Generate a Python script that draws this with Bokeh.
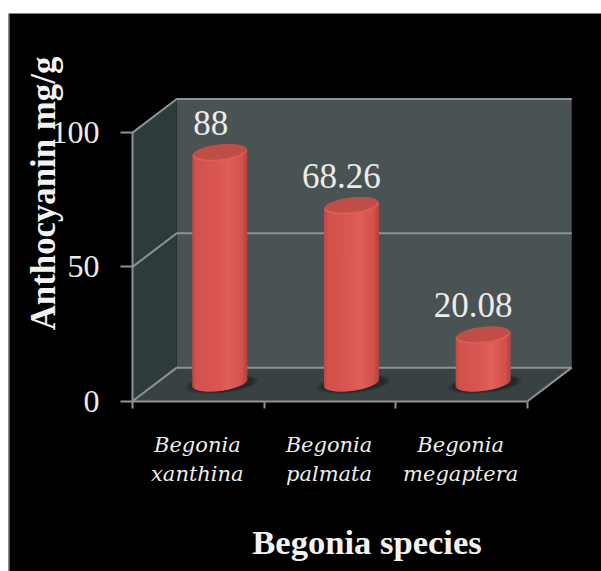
import numpy as np
from bokeh.plotting import figure
from bokeh.embed import file_html
from bokeh.resources import INLINE
from bokeh.core.properties import value
from bokeh.models import Range1d, LinearAxis, FixedTicker, ColumnDataSource, LabelSet, Label, BoxAnnotation

# ---- data ----
line1 = ["Begonia", "Begonia", "Begonia"]
line2 = ["xanthina", "palmata", "megaptera"]
values = [88, 68.26, 20.08]
value_labels = ["88", "68.26", "20.08"]
y_ticks = [0, 50, 100]
x_ticks = [0, 1, 2, 3]
y_title = "Anthocyanin mg/g"
x_title = "Begonia species"

# ---- style ----
DX, DY = 0.336, 12.5           # depth of the 3D box in data units
GRID = "#8d9292"
TXT = "#ececec"
SERIF = "Liberation Serif"
X = lambda px: (px - 132) / 131.67
Y = lambda py: (400.7 - py) / 2.686

p = figure(width=593, height=558,
           x_range=Range1d(X(8), X(601)), y_range=Range1d(Y(571), Y(13)),
           min_border=0,
           output_backend="svg", toolbar_location=None, x_axis_type=None, y_axis_type=None,
           background_fill_color="#000000", border_fill_color="#000000",
           outline_line_color=None, margin=(13, 0, 0, 8))
p.grid.visible = False

# walls
p.quad(left=DX, right=3 + DX, bottom=DY, top=100 + DY, fill_color="#4a5353", line_color=None)
p.patch([0, 0, DX, DX], [0, 100, 100 + DY, DY], fill_color="#2f3b3b", line_color=None)
p.patch([0, 3, 3 + DX, DX], [0, 0, DY, DY], fill_color="#394242", line_color=None)

# gridlines
for t in y_ticks:
    p.line([0, DX, 3 + DX], [t, t + DY, t + DY], line_color=GRID, line_width=2)
p.line([3, 3 + DX], [0, DY], line_color=GRID, line_width=2)

# axes
ly = LinearAxis(ticker=FixedTicker(ticks=y_ticks), bounds=(0, 100), fixed_location=0)
ly.axis_line_color = GRID
ly.axis_line_width = 2
ly.major_tick_line_color = GRID
ly.major_tick_line_width = 2
ly.major_tick_out = 12
ly.major_tick_in = 0
ly.minor_tick_line_color = None
ly.major_label_standoff = 21
ly.major_label_text_font = SERIF
ly.major_label_text_font_size = "32px"
ly.major_label_text_color = TXT
p.add_layout(ly, "left")

lx = LinearAxis(ticker=FixedTicker(ticks=x_ticks), bounds=(0, 3), fixed_location=0)
lx.axis_line_color = GRID
lx.axis_line_width = 2
lx.major_tick_line_color = GRID
lx.major_tick_line_width = 2
lx.major_tick_out = 7
lx.major_tick_in = 0
lx.minor_tick_line_color = None
lx.major_label_text_font_size = "0px"
lx.major_label_overrides = {t: "" for t in x_ticks}
p.add_layout(lx, "below")

# cylinders
stops_u = [0, 0.07, 0.5, 0.66, 0.92, 1]
stops = np.array([[0xbc, 0x48, 0x44], [0xd2, 0x52, 0x4e], [0xdc, 0x58, 0x53],
                  [0xe2, 0x60, 0x5a], [0xd4, 0x52, 0x4e], [0xb6, 0x44, 0x40]], float)
R = 0.209
A = 3.0       # semi-minor axis of the ellipses in y data units
TILT = 1.25   # rise of the ellipse, left to right, y data units
N = 56
us = (np.arange(N) + 0.5) / N
cols = ["#%02x%02x%02x" % tuple(int(np.interp(u, stops_u, stops[:, c])) for c in range(3)) for u in us]
offs = (us * 2 - 1)
for i, v in enumerate(values):
    cx = i + 0.5 + 0.171 - 0.008
    base = DY / 2 + 0.6
    top = v + DY / 2 - 1.5
    p.ellipse([cx + 0.014], [base - 0.5], width=0.56, height=6.6, angle=0.1, fill_color="#232a2a", fill_alpha=0.45, line_color=None)
    p.ellipse([cx + 0.012], [base - 0.4], width=0.5, height=6.0, angle=0.1, fill_color="#232a2a", line_color=None)
    xs = cx + offs * R * (1 - 1 / N)
    bots = base + TILT * offs - A * np.sqrt(1 - offs ** 2)
    tops = top + TILT * offs
    p.vbar(x=xs, width=2 * R / N * 2, bottom=bots, top=tops, fill_color=cols, line_color=None)
    p.ellipse([cx], [top - 0.3], width=2 * R * 0.99, height=2 * A, angle=0.11, fill_color="#dd6058", line_color=None)
    p.ellipse([cx], [top + 0.1], width=2 * R * 0.96, height=2 * A * 0.92, angle=0.11, fill_color="#c14d49", line_color=None)

# value labels
nudges = [-9, -10, -10]
src = ColumnDataSource(dict(x=[i + 0.5 + 0.171 - 0.008 for i in range(3)], y=values, t=value_labels, dx=nudges))
p.add_layout(LabelSet(x="x", y="y", text="t", source=src, x_offset="dx", y_offset=42,
                      text_font=value(SERIF), text_font_size="35px", text_color=TXT,
                      text_align="center", text_baseline="middle"))

# category labels
csrc = ColumnDataSource(dict(x=[i + 0.5 for i in range(3)], y=[0, 0, 0], a=line1, b=line2))
for col, off in (("a", -44), ("b", -73)):
    p.add_layout(LabelSet(x="x", y="y", text=col, source=csrc, y_offset=off, x_offset=-1,
                          text_font=value("DejaVu Serif"), text_font_style="italic",
                          text_font_size="21px", text_color=TXT,
                          text_align="center", text_baseline="middle"))

# titles
p.add_layout(Label(x=X(366.5), y=Y(541), text=x_title, text_font=SERIF, text_font_style="bold",
                   text_font_size="34.6px", text_color="#f2f2f2", text_align="center", text_baseline="middle"))
p.add_layout(Label(x=X(43), y=Y(193), text=y_title, angle=np.pi / 2, text_font=SERIF, text_font_style="bold",
                   text_font_size="34.8px", text_color="#f2f2f2", text_align="center", text_baseline="middle"))
# pale left edge of the picture
p.add_layout(BoxAnnotation(left=X(8), right=X(9), bottom=Y(571), top=Y(13), fill_color="#a8a8a8", fill_alpha=1, line_color=None))

open("out.html", "w").write(file_html(p, INLINE))
